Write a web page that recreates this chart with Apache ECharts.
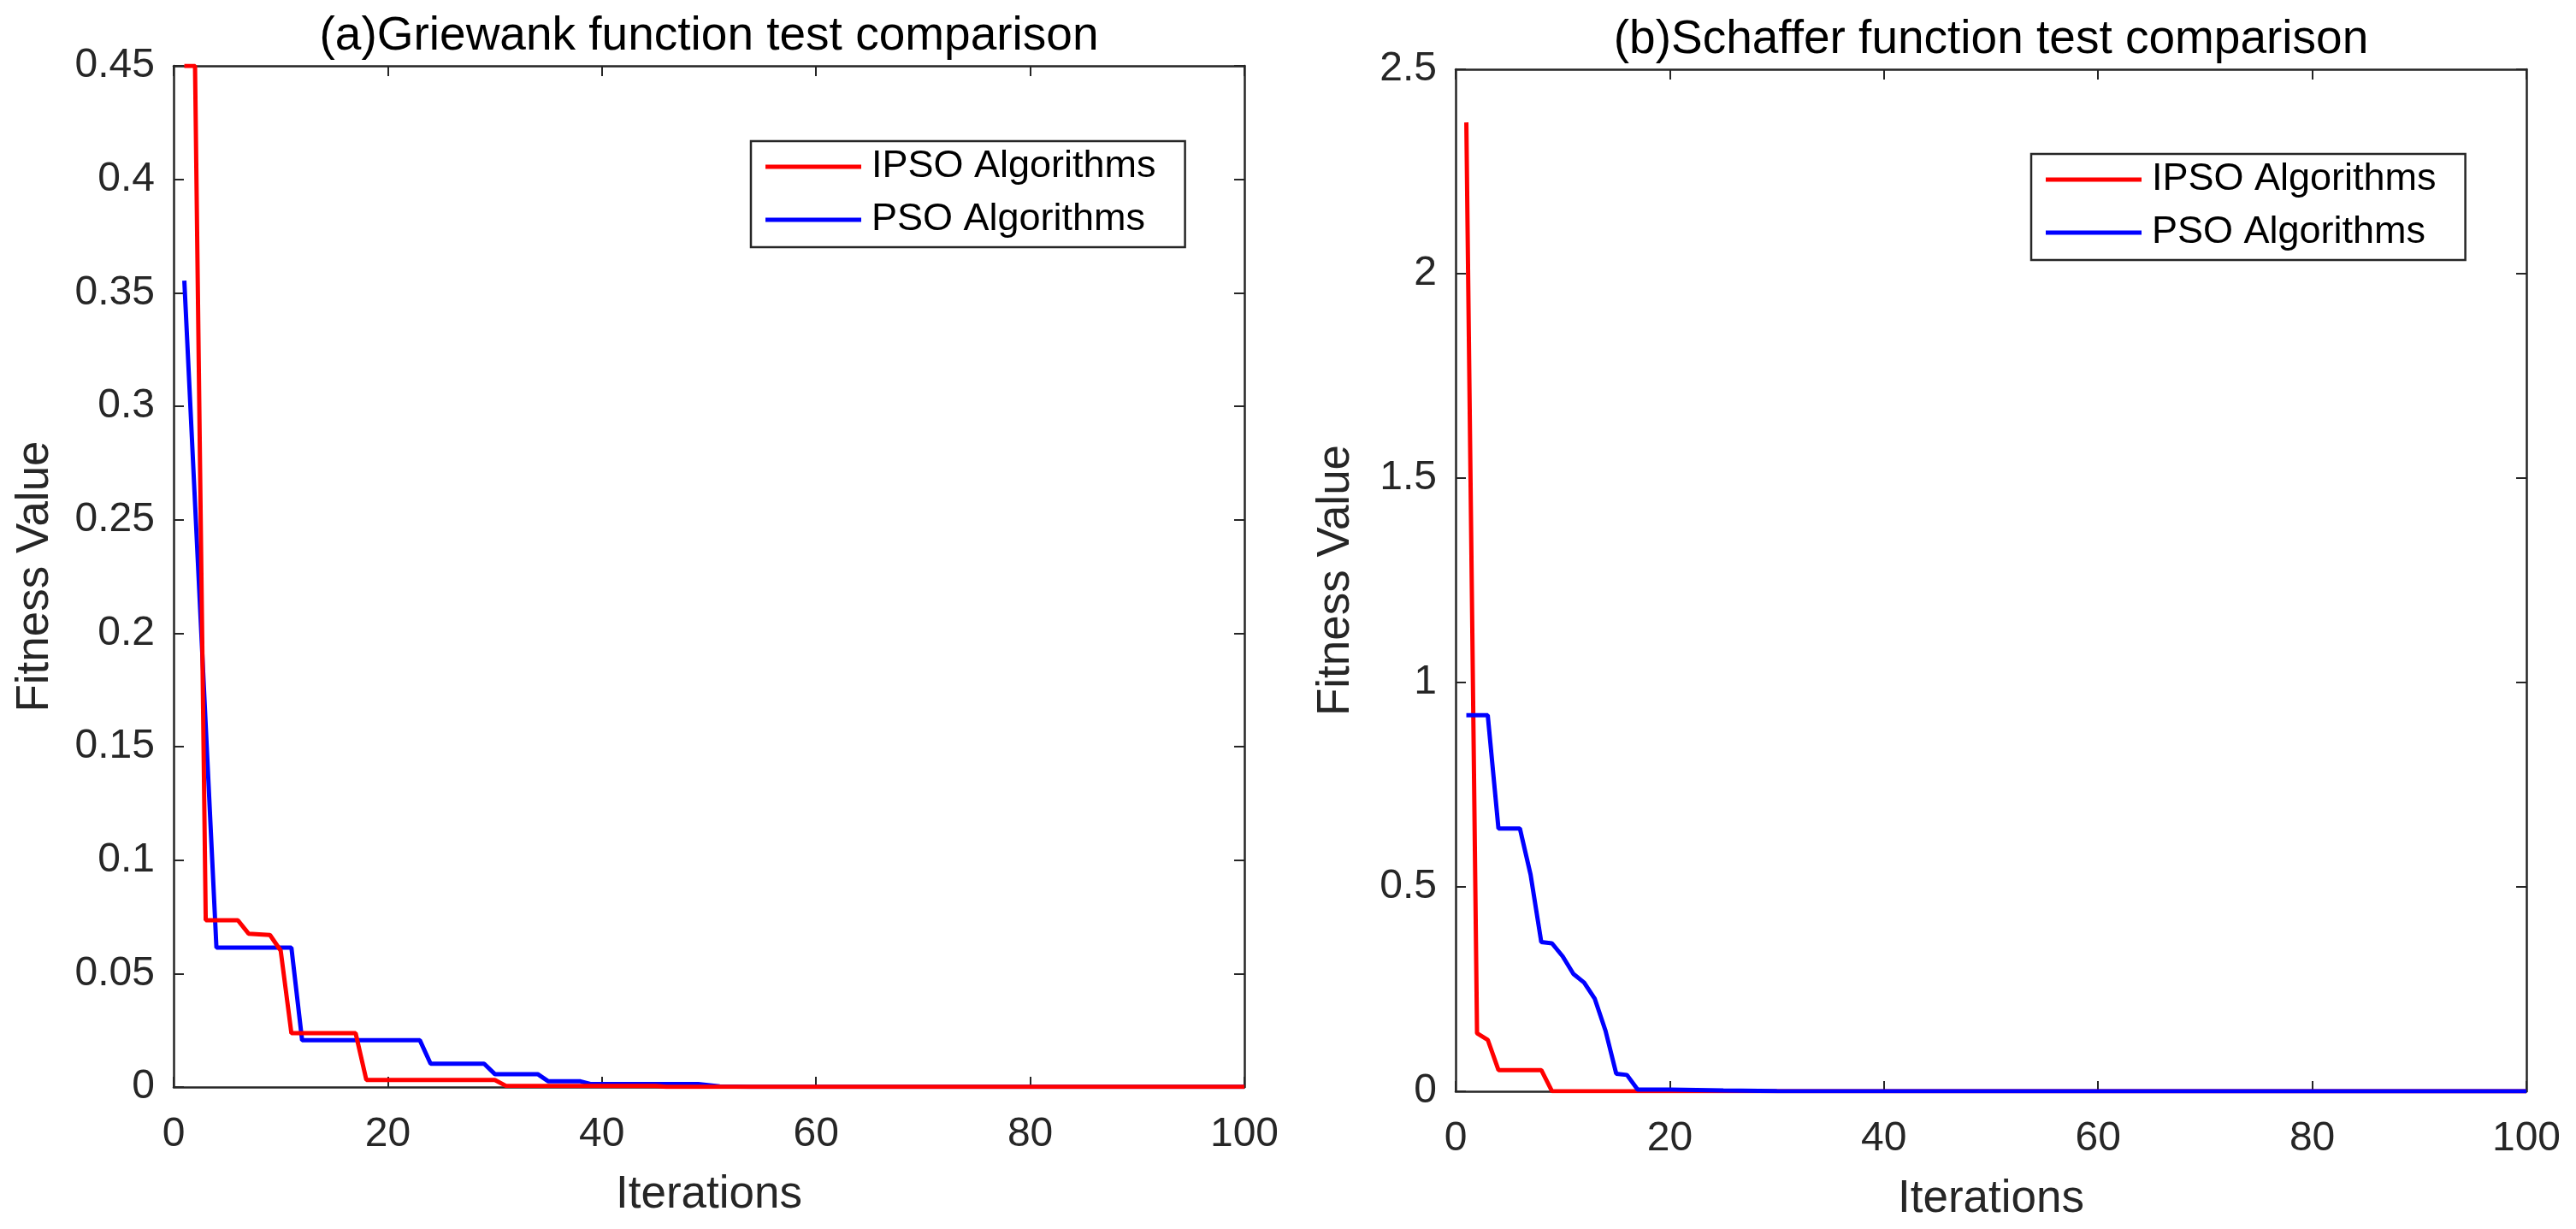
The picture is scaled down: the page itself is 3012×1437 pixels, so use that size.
<!DOCTYPE html>
<html><head><meta charset="utf-8">
<script src="https://cdn.jsdelivr.net/npm/echarts@6/dist/echarts.min.js"></script>
<style>html,body{margin:0;padding:0;background:#fff}#c{width:3012px;height:1437px}</style>
</head><body><div id="c"></div>
<script>
// ---- data ----
const titles = ['(a)Griewank function test comparison', '(b)Schaffer function test comparison'];
const seriesNames = ['IPSO Algorithms', 'PSO Algorithms'];
const xName = 'Iterations';
const yName = 'Fitness Value';

const griewankIpsoIter = [1, 2, 3, 6, 7, 9, 10, 11, 17, 18, 30, 31, 45, 46, 100];
const griewankIpsoVal  = [0.45, 0.45, 0.0735, 0.0735, 0.0676, 0.067, 0.0601, 0.0237, 0.0237, 0.0031, 0.0031, 0.0006, 0.0005, 0.0001, 0.0001];
const griewankPsoIter  = [1, 4, 11, 12, 23, 24, 29, 30, 34, 35, 38, 39, 49, 51, 54, 100];
const griewankPsoVal   = [0.3554, 0.0614, 0.0614, 0.0206, 0.0206, 0.0103, 0.0103, 0.0057, 0.0057, 0.0025, 0.0025, 0.0013, 0.0013, 0.0003, 0.0001, 0.0001];

const schafferIpsoIter = [1, 2, 3, 4, 8, 9, 100];
const schafferIpsoVal  = [2.37, 0.142, 0.126, 0.052, 0.052, 0.0005, 0];
const schafferPsoIter  = [1, 3, 4, 6, 7, 8, 9, 10, 11, 12, 13, 14, 15, 16, 17, 20, 25, 30, 100];
const schafferPsoVal   = [0.92, 0.92, 0.643, 0.643, 0.53, 0.365, 0.362, 0.33, 0.287, 0.266, 0.226, 0.148, 0.043, 0.04, 0.004, 0.004, 0.002, 0.0005, 0];

const xMin = 0, xMax = 100, xStep = 20;
const yLeftMax = 0.45, yLeftStep = 0.05;
const yRightMax = 2.5, yRightStep = 0.5;

// ---- styling ----
const FONT = "'Liberation Sans', Arial, Helvetica, sans-serif";
const AX = '#262626';
const RED = '#ff0000', BLUE = '#0000ff';

function pairs(xs, ys) { return xs.map((x, i) => [x, ys[i]]); }

const grids = [
  { left: 203, top: 77, width: 1252, height: 1194 },
  { left: 1702, top: 81, width: 1252, height: 1195 }
];

function xAxes(gi) {
  const base = { type: 'value', gridIndex: gi, min: xMin, max: xMax, interval: xStep,
    splitLine: { show: false },
    axisLine: { show: true, onZero: false, lineStyle: { color: AX, width: 2.5 } },
    axisTick: { show: true, inside: true, length: 12, lineStyle: { color: AX, width: 2 } } };
  return [
    Object.assign({}, base, { position: 'bottom', name: xName, nameLocation: 'middle', nameGap: 100,
      nameTextStyle: { fontFamily: FONT, fontSize: 53, color: AX },
      axisLabel: { show: true, margin: 32, fontFamily: FONT, fontSize: 48, color: AX } }),
    Object.assign({}, base, { position: 'top', axisLabel: { show: false } })
  ];
}
function yAxes(gi, max, step, gap) {
  const base = { type: 'value', gridIndex: gi, min: 0, max: max, interval: step,
    splitLine: { show: false },
    axisLine: { show: true, onZero: false, lineStyle: { color: AX, width: 2.5 } },
    axisTick: { show: true, inside: true, length: 12, lineStyle: { color: AX, width: 2 } } };
  return [
    Object.assign({}, base, { position: 'left', name: yName, nameLocation: 'middle', nameGap: gap,
      nameTextStyle: { fontFamily: FONT, fontSize: 53, color: AX },
      axisLabel: { show: true, margin: 22, fontFamily: FONT, fontSize: 48, color: AX } }),
    Object.assign({}, base, { position: 'right', axisLabel: { show: false } })
  ];
}

function legendAt(left, top) {
  return { orient: 'vertical', left: left, top: top, data: seriesNames,
    backgroundColor: '#fff', borderColor: AX, borderWidth: 2.5, borderRadius: 0,
    padding: [5, 34, 7, 17], itemGap: 12, icon: 'rect', itemWidth: 112, itemHeight: 5,
    textStyle: { fontFamily: FONT, fontSize: 45, color: '#000', lineHeight: 50, padding: [0, 0, 0, 7] } };
}

function line(name, data, xi, yi, color, z) {
  return { name: name, type: 'line', xAxisIndex: xi, yAxisIndex: yi, data: data,
    showSymbol: false, symbol: 'none', clip: true, z: z, animation: false,
    lineStyle: { color: color, width: 5 }, itemStyle: { color: color } };
}

const option = {
  backgroundColor: '#fff',
  animation: false,
  grid: grids,
  xAxis: xAxes(0).concat(xAxes(1)),
  yAxis: yAxes(0, yLeftMax, yLeftStep, 135).concat(yAxes(1, yRightMax, yRightStep, 113)),
  legend: [legendAt(878, 165), legendAt(2375, 180)],
  graphic: [
    { type: 'text', x: 829, y: 43, style: { text: titles[0], fontFamily: FONT, fontSize: 55, fill: '#000', align: 'center', verticalAlign: 'middle' } },
    { type: 'text', x: 2328, y: 47, style: { text: titles[1], fontFamily: FONT, fontSize: 55, fill: '#000', align: 'center', verticalAlign: 'middle' } }
  ],
  series: [
    line(seriesNames[1], pairs(griewankPsoIter, griewankPsoVal), 0, 0, BLUE, 2),
    line(seriesNames[0], pairs(griewankIpsoIter, griewankIpsoVal), 0, 0, RED, 3),
    line(seriesNames[0], pairs(schafferIpsoIter, schafferIpsoVal), 2, 2, RED, 2),
    line(seriesNames[1], pairs(schafferPsoIter, schafferPsoVal), 2, 2, BLUE, 3)
  ]
};

const chart = echarts.init(document.getElementById('c'), null, { renderer: 'canvas' });
chart.setOption(option);
</script>
</body></html>
